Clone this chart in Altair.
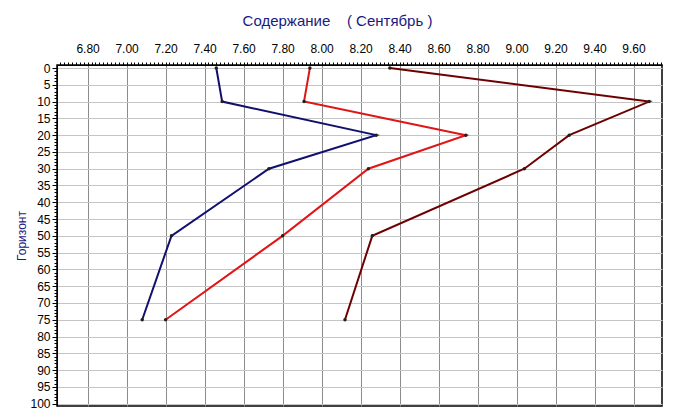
import altair as alt
import pandas as pd

depths = [0, 10, 20, 30, 50, 75]
series_names = ["s1", "s2", "s3"]
blue_vals = [7.46, 7.49, 8.28, 7.73, 7.23, 7.08]
red_vals = [7.94, 7.91, 8.74, 8.24, 7.80, 7.20]
maroon_vals = [8.35, 9.68, 9.27, 9.04, 8.26, 8.12]
colors = ["#10106e", "#e01515", "#6e0000"]

x_major = [round(6.8 + 0.2 * i, 2) for i in range(15)]
x_minor = [round(6.66 + 0.02 * i, 2) for i in range(155)]
y_major = list(range(0, 101, 5))
y_minor = list(range(0, 101, 1))

rows = []
for name, vals in zip(series_names, [blue_vals, red_vals, maroon_vals]):
    for d, v in zip(depths, vals):
        rows.append({"series": name, "depth": d, "value": v})
df = pd.DataFrame(rows)

xs = alt.Scale(domain=[6.643, 9.746], nice=False, zero=False)
ys = alt.Scale(domain=[-0.9, 100.7], nice=False, zero=False, reverse=True)
cs = alt.Scale(domain=series_names, range=colors)

base = alt.Chart(df)

lines = base.mark_line(strokeWidth=2).encode(
    x=alt.X("value:Q", scale=xs, axis=alt.Axis(
        orient="top", values=x_major, format=".2f", grid=True, gridColor="#8c8c8c",
        ticks=False, domain=True, domainColor="black", labelFont="Arial",
        labelFontSize=12, labelColor="black", labelPadding=10, title=None)),
    y=alt.Y("depth:Q", scale=ys, axis=alt.Axis(
        orient="left", values=y_major, grid=True, gridColor="#c4c4c4",
        tickSize=5, tickColor="black", domain=True, domainColor="black",
        labelFont="Arial", labelFontSize=12, labelColor="black", labelPadding=2,
        title="Горизонт", titleFont="Arial", titleFontSize=12, titleFontWeight="normal",
        titleColor="#1a1a80", titlePadding=1)),
    color=alt.Color("series:N", scale=cs, legend=None),
    order="depth:Q",
    detail="series:N",
)

points = base.mark_point(filled=True, size=12, color="#202020", opacity=1).encode(
    x=alt.X("value:Q", scale=xs, axis=None),
    y=alt.Y("depth:Q", scale=ys, axis=None),
)

minor = base.mark_point(opacity=0).encode(
    x=alt.X("value:Q", scale=xs, axis=alt.Axis(
        orient="top", values=x_minor, labels=False, grid=False, tickSize=3,
        tickColor="black", domain=False, title=None)),
    y=alt.Y("depth:Q", scale=ys, axis=alt.Axis(
        orient="left", values=y_minor, labels=False, grid=False, tickSize=3,
        tickColor="black", domain=False, title=None)),
)

chart = alt.layer(lines, points, minor).resolve_axis(x="independent", y="independent").properties(
    width=605, height=341,
    autosize=alt.AutoSizeParams(type="none"),
    padding={"left": 49, "top": 57, "right": 5, "bottom": 5},
    title=alt.TitleParams("Содержание\u00a0\u00a0\u00a0\u00a0(\u00a0Сентябрь\u00a0)", font="Arial", fontSize=15,
                          fontWeight="normal", color="#1a1a80", offset=13, dx=-22),
).configure_view(stroke="black", strokeWidth=1.5)

chart.save("out.html", embed_options={"renderer": "svg", "actions": False})
